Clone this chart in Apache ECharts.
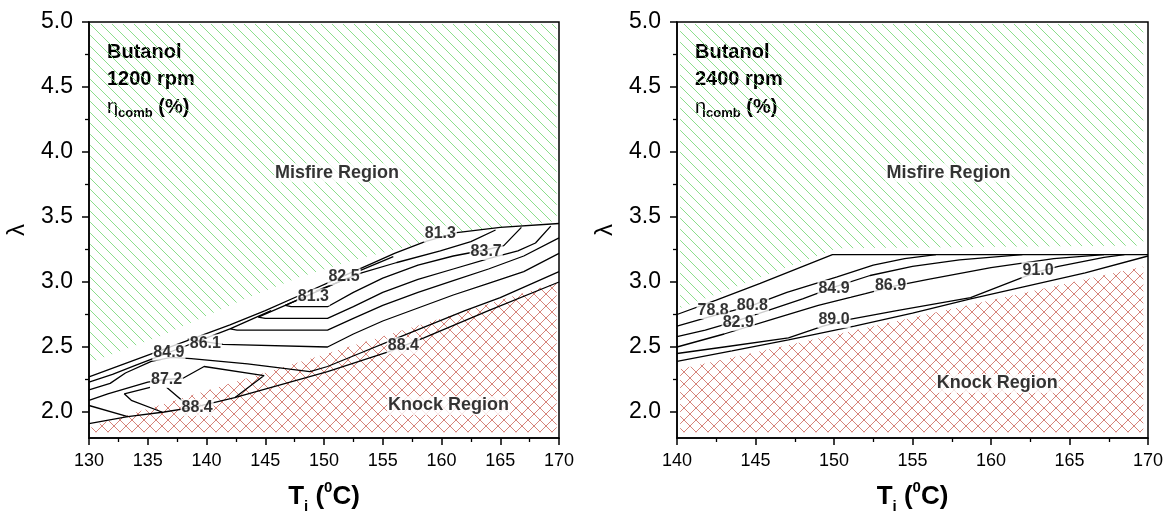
<!DOCTYPE html>
<html>
<head>
<meta charset="utf-8">
<script src="https://cdn.jsdelivr.net/npm/echarts@6/dist/echarts.min.js"></script>
<style>
  html, body { margin: 0; padding: 0; background: #fff; }
  #chart { width: 1167px; height: 520px; }
</style>
</head>
<body>
<div id="chart"></div>
<script>
// ---------- axis ticks ----------
const lambdaTicks = [2.0, 2.5, 3.0, 3.5, 4.0, 4.5, 5.0];
const lambdaMinorTicks = [2.25, 2.75, 3.25, 3.75, 4.25, 4.75];

// ---------- Butanol, 1200 rpm : regions [Ti, lambda] ----------
const misfire1200 = [[130.1, 4.985], [169.8, 4.985], [169.8, 3.47], [162, 3.39], [157, 3.27], [153, 3.18],
  [148, 3.04], [143, 2.86], [136, 2.58], [130.1, 2.38]];
const knock1200 = [[130.2, 1.845], [130.2, 1.89], [169.8, 2.995], [169.8, 1.845]];

// ---------- Butanol, 1200 rpm : eta_comb iso-lines [Ti, lambda] ----------
const iso1200Top = [[130, 2.27], [133, 2.37], [136, 2.47], [139, 2.57], [142, 2.67], [145, 2.78], [148, 2.90],
  [151, 3.02], [154, 3.14], [156, 3.22], [158.6, 3.31], [161.3, 3.38], [165, 3.42], [170, 3.45]];
const iso1200A = [[130, 2.23], [132, 2.29], [134, 2.36], [136, 2.43], [138, 2.50], [140, 2.57], [142, 2.64]];
const iso1200B = [[130, 2.17], [131.8, 2.22], [133.1, 2.30], [135.3, 2.39], [137, 2.42], [138.7, 2.41],
  [143.5, 2.37], [148.8, 2.31], [150.3, 2.35], [153, 2.45], [156, 2.56], [159, 2.67], [162, 2.78], [165, 2.88], [170, 3.08]];
const iso1200C = [[130, 2.09], [131.6, 2.14], [135.0, 2.23], [136.5, 2.25], [138.0, 2.26], [139.8, 2.35],
  [144.9, 2.28], [142.4, 2.11]];
const iso1200D = [[130, 2.05], [133.3, 1.965]];
const iso1200Loop = [[135.2, 2.19], [133.0, 2.14], [133.6, 2.09], [136.2, 2.0]];
const iso1200Diag = [[136.6, 2.19], [137.9, 2.09], [138.6, 2.05]];
const iso1200Bottom = [[130, 1.91], [133.3, 1.965], [136.4, 2.0], [139.1, 2.04], [142.4, 2.11], [150.3, 2.31],
  [155.4, 2.46], [158.5, 2.57], [164, 2.78], [170, 3.0]];
const iso1200E = [[138.4, 2.56], [141.4, 2.52], [150.3, 2.50], [152.5, 2.60], [155, 2.70], [158, 2.80],
  [161, 2.90], [164, 2.99], [167, 3.08], [170, 3.22]];
const iso1200F = [[145.5, 2.78], [142.0, 2.64], [142.6, 2.63], [150.3, 2.63], [152.5, 2.72], [155, 2.82],
  [158, 2.92], [161, 3.01], [164, 3.10], [167, 3.20], [170, 3.34]];
const iso1200G = [[149, 2.91], [144.4, 2.73], [145, 2.72], [150.3, 2.72], [152.5, 2.81], [155, 2.92],
  [158, 3.02], [161, 3.10], [164, 3.18], [166.5, 3.24], [168, 3.30], [169.3, 3.43]];
const iso1200H = [[152, 3.03], [146.7, 2.82], [147.2, 2.81], [150.3, 2.81], [152.5, 2.92], [155, 3.03],
  [158, 3.13], [161, 3.20], [163.9, 3.25], [165.3, 3.28], [166.8, 3.42]];
const iso1200I = [[149.3, 2.93], [151.8, 3.02], [153.2, 3.07], [156.2, 3.15], [159.9, 3.24], [162.5, 3.31], [164.6, 3.40]];
const iso1200J = [[153.1, 3.09], [155.9, 3.195]];
const levels1200 = [[159.9, 3.37, 81.3], [163.8, 3.235, 83.7], [151.7, 3.04, 82.5], [149.1, 2.885, 81.3],
  [139.9, 2.53, 86.1], [136.8, 2.46, 84.9], [136.6, 2.25, 87.2], [139.2, 2.035, 88.4], [156.75, 2.51, 88.4]];
const regions1200 = [[151.1, 3.84, 'Misfire Region'], [160.6, 2.05, 'Knock Region']];

// ---------- Butanol, 2400 rpm : regions [Ti, lambda] ----------
const misfire2400 = [[140.2, 4.985], [169.7, 4.985], [169.7, 3.28], [150.2, 3.26], [140.2, 2.80]];
const knock2400 = [[140.2, 1.845], [140.2, 2.33], [169.7, 3.12], [169.7, 1.845]];

// ---------- Butanol, 2400 rpm : eta_comb iso-lines [Ti, lambda] ----------
const iso2400A = [[140, 2.75], [142.5, 2.86], [145.3, 2.99], [149.9, 3.21], [170, 3.21]];
const iso2400B = [[140, 2.66], [142, 2.73], [144.8, 2.82], [147, 2.92], [150.2, 3.04], [152.5, 3.13],
  [154.5, 3.18], [156.5, 3.21]];
const iso2400C = [[140, 2.58], [141.8, 2.63], [143.5, 2.69], [146, 2.79], [148, 2.87], [150, 2.96],
  [152.3, 3.05], [155, 3.12], [158, 3.17], [162, 3.21]];
const iso2400D = [[140, 2.50], [143, 2.60], [146, 2.71], [149, 2.82], [152, 2.91], [153.9, 2.97],
  [156, 3.02], [160, 3.11], [164, 3.18], [167.2, 3.21]];
const iso2400E = [[140, 2.45], [143, 2.50], [147.1, 2.57], [149.3, 2.66], [150.9, 2.71], [154, 2.78],
  [158.7, 2.88], [162.1, 3.04], [163, 3.08], [164.3, 3.12], [167.2, 3.19], [168.5, 3.21]];
const iso2400F = [[140, 2.39], [143.5, 2.47], [147.1, 2.555], [151.3, 2.66], [155, 2.76], [158.7, 2.87],
  [162, 2.96], [166, 3.07], [170, 3.20]];
const levels2400 = [[142.3, 2.78, 78.8], [144.8, 2.82, 80.8], [143.9, 2.69, 82.9], [150.0, 2.95, 84.9],
  [153.6, 2.97, 86.9], [150.0, 2.71, 89.0], [163.0, 3.09, 91.0]];
const regions2400 = [[157.3, 3.84, 'Misfire Region'], [160.4, 2.22, 'Knock Region']];

// ---------- hatch patterns ----------
function hatch(step, color, cross) {
  const c = document.createElement('canvas');
  c.width = step; c.height = step;
  const g = c.getContext('2d');
  g.strokeStyle = color;
  g.lineWidth = 1;
  g.beginPath();
  g.moveTo(0, 0); g.lineTo(step, step);
  g.moveTo(-2, step - 2); g.lineTo(2, step + 2);
  g.moveTo(step - 2, -2); g.lineTo(step + 2, 2);
  if (cross) {
    g.moveTo(0, step); g.lineTo(step, 0);
    g.moveTo(-2, 2); g.lineTo(2, -2);
    g.moveTo(step - 2, step + 2); g.lineTo(step + 2, step - 2);
  }
  g.stroke();
  return { image: c, repeat: 'repeat' };
}
const greenHatch = hatch(11, 'rgb(140,222,140)', false);
const redHatch = hatch(12, 'rgb(214,132,122)', true);

const FONT = 'Liberation Sans, Arial, Helvetica, sans-serif';

function region(pts, fill, idx) {
  return {
    type: 'custom', xAxisIndex: idx, yAxisIndex: idx * 2, silent: true, z: 1,
    data: [pts[0]],
    renderItem: (params, api) => ({
      type: 'polygon',
      shape: { points: pts.map(p => api.coord(p)) },
      style: { fill: fill, stroke: null }
    })
  };
}
function iso(pts, idx) {
  return {
    type: 'line', xAxisIndex: idx, yAxisIndex: idx * 2, data: pts, symbol: 'none', silent: true, z: 3,
    lineStyle: { color: '#000', width: 1.3 }
  };
}
function tags(pts, idx, size, fmt) {
  return {
    type: 'scatter', xAxisIndex: idx, yAxisIndex: idx * 2, data: pts, symbolSize: 1, silent: true, z: 5,
    itemStyle: { color: 'rgba(0,0,0,0)' },
    label: {
      show: true, position: 'inside', formatter: fmt,
      fontFamily: FONT, fontWeight: 'bold', fontSize: size, color: '#000',
      textBorderWidth: 0, textShadowBlur: 0,
      backgroundColor: '#fff', padding: [1, 1, 0, 1]
    }
  };
}

function xAxisFor(idx, min) {
  return {
    gridIndex: idx, type: 'value', min: min, max: 170, interval: 5,
    axisLine: { lineStyle: { color: '#000', width: 1.5 } },
    axisTick: { length: 7, lineStyle: { color: '#000', width: 1.5 } },
    minorTick: { show: true, splitNumber: 2, length: 4, lineStyle: { color: '#000', width: 1.3 } },
    splitLine: { show: false },
    axisLabel: { fontFamily: FONT, fontSize: 18, color: '#000', margin: 14 },
    name: '{b|T}{s|i}{b| (}{p|0}{b|C)}',
    nameLocation: 'middle', nameGap: 42,
    nameTextStyle: {
      fontFamily: FONT, color: '#000',
      rich: {
        b: { fontFamily: FONT, fontWeight: 'bold', fontSize: 26, lineHeight: 34, verticalAlign: 'middle' },
        s: { fontFamily: FONT, fontWeight: 'bold', fontSize: 15, lineHeight: 34, verticalAlign: 'bottom' },
        p: { fontFamily: FONT, fontWeight: 'bold', fontSize: 15, lineHeight: 34, verticalAlign: 'top' }
      }
    }
  };
}
function yAxesFor(idx) {
  return [{
    gridIndex: idx, type: 'value', min: 1.8, max: 5.0,
    axisLine: { lineStyle: { color: '#000', width: 1.5 } },
    axisTick: { length: 7, customValues: lambdaTicks, lineStyle: { color: '#000', width: 1.5 } },
    splitLine: { show: false },
    axisLabel: { customValues: lambdaTicks, formatter: v => v.toFixed(1), fontFamily: FONT, fontSize: 23, color: '#000', margin: 16 },
    name: 'λ', nameLocation: 'middle', nameGap: 60,
    nameTextStyle: { fontFamily: FONT, fontSize: 24, color: '#000' }
  }, {
    gridIndex: idx, type: 'value', min: 1.8, max: 5.0, position: 'left',
    axisLine: { show: false },
    axisTick: { length: 4, customValues: lambdaMinorTicks, lineStyle: { color: '#000', width: 1.3 } },
    axisLabel: { show: false },
    splitLine: { show: false }
  }];
}

function infoBox(x, rpm) {
  return {
    type: 'group', left: x, top: 32, z: 10,
    children: [
      { type: 'rect', shape: { x: 0, y: 0, width: 100, height: 93 }, style: { fill: '#fff' } },
      { type: 'text', x: 10, y: 10, style: { text: 'Butanol', font: 'bold 20px ' + FONT, fill: '#000' } },
      { type: 'text', x: 10, y: 37, style: { text: rpm, font: 'bold 20px ' + FONT, fill: '#000' } },
      { type: 'text', x: 10, y: 62, style: {
          text: '{e|η}{s|comb}{b| (%)}',
          rich: {
            e: { fontFamily: FONT, fontSize: 20, fill: '#000', lineHeight: 26, verticalAlign: 'middle' },
            s: { fontFamily: FONT, fontWeight: 'bold', fontSize: 13, fill: '#000', lineHeight: 26, verticalAlign: 'bottom' },
            b: { fontFamily: FONT, fontWeight: 'bold', fontSize: 20, fill: '#000', lineHeight: 26, verticalAlign: 'middle' }
          }
        } }
    ]
  };
}

const lvlFmt = p => p.value[2].toFixed(1);
const txtFmt = p => p.value[2];

const chart = echarts.init(document.getElementById('chart'), null, { renderer: 'canvas' });
chart.setOption({
  animation: false,
  backgroundColor: '#fff',
  grid: [
    { left: 89, top: 22, width: 470, height: 416, show: true, borderColor: '#000', borderWidth: 1.5, backgroundColor: 'transparent' },
    { left: 677, top: 22, width: 471, height: 416, show: true, borderColor: '#000', borderWidth: 1.5, backgroundColor: 'transparent' }
  ],
  xAxis: [xAxisFor(0, 130), xAxisFor(1, 140)],
  yAxis: [...yAxesFor(0), ...yAxesFor(1)],
  graphic: [infoBox(97, '1200 rpm'), infoBox(685, '2400 rpm')],
  series: [
    region(misfire1200, greenHatch, 0),
    region(knock1200, redHatch, 0),
    ...[iso1200Top, iso1200A, iso1200B, iso1200C, iso1200D, iso1200Loop, iso1200Diag, iso1200Bottom,
      iso1200E, iso1200F, iso1200G, iso1200H, iso1200I, iso1200J].map(s => iso(s, 0)),
    tags(levels1200, 0, 16, lvlFmt),
    tags(regions1200, 0, 18, txtFmt),

    region(misfire2400, greenHatch, 1),
    region(knock2400, redHatch, 1),
    ...[iso2400A, iso2400B, iso2400C, iso2400D, iso2400E, iso2400F].map(s => iso(s, 1)),
    tags(levels2400, 1, 16, lvlFmt),
    tags(regions2400, 1, 18, txtFmt)
  ]
});
</script>
</body>
</html>
